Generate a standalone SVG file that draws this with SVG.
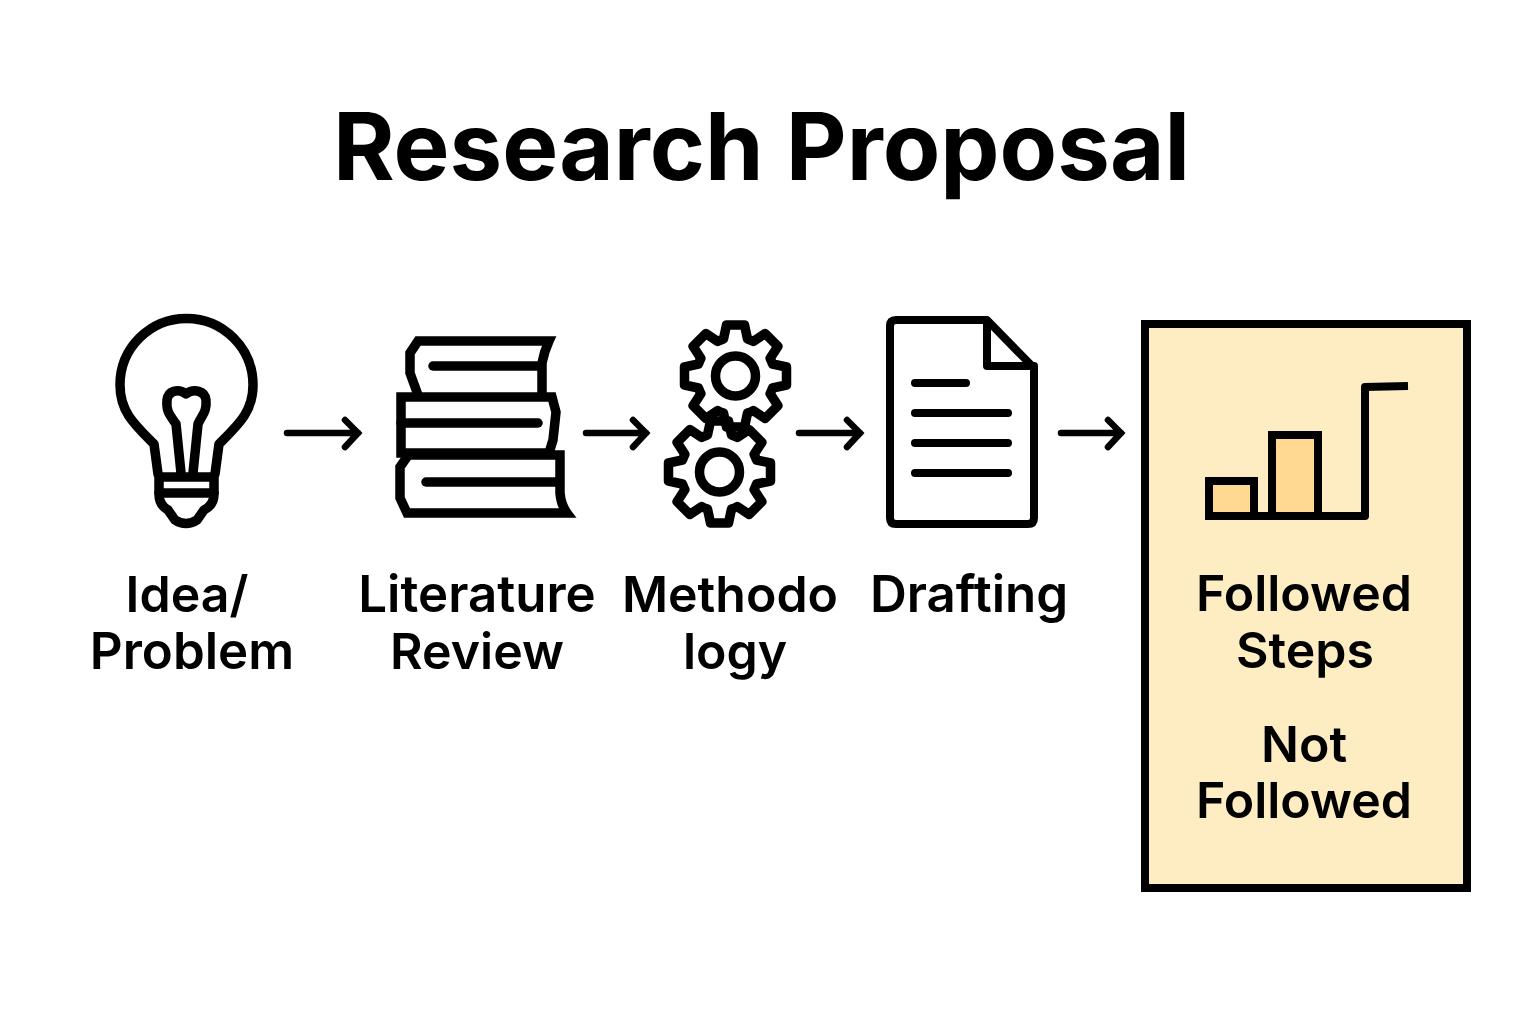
<svg xmlns="http://www.w3.org/2000/svg" width="1536" height="1024" viewBox="0 0 1536 1024">
<style>
text{font-family:"Inter","Liberation Sans",sans-serif;fill:#000;text-anchor:middle}
.t{font-size:94px;font-weight:700}
.l{font-size:50px;font-weight:600}
.w{font-size:51px}
.i{fill:none;stroke:#000;stroke-width:8;stroke-linejoin:round;stroke-linecap:round}
.b{stroke-width:9.5}
.k{stroke-width:9.5;stroke-linejoin:miter;stroke-linecap:butt}
.a{fill:none;stroke:#000;stroke-width:6.5;stroke-linecap:round;stroke-linejoin:miter}
</style>
<defs>
<g id="gear"><path class="i b" d="M-9-51H9L12-37A39 39 0 0 1 17.7-34.6L29.7-42.4 42.4-29.7 34.6-17.7A39 39 0 0 1 37-12L51-9V9L37 12A39 39 0 0 1 34.6 17.7L42.4 29.7 29.7 42.4 17.7 34.6A39 39 0 0 1 12 37L9 51H-9L-12 37A39 39 0 0 1-17.7 34.6L-29.7 42.4-42.4 29.7-34.6 17.7A39 39 0 0 1-37 12L-51 9V-9L-37-12A39 39 0 0 1-34.6-17.7L-42.4-29.7-29.7-42.4-17.7-34.6A39 39 0 0 1-12-37Z"/><circle class="i b" r="20"/></g>
</defs>
<rect width="1536" height="1024" fill="#fff"/>
<text id="title" class="t" x="761.5" y="180">Research Proposal</text>
<g id="connectors">
<path class="a" d="M287 433H358M345 420L358 433 345 447"/>
<path class="a" d="M586 433H646M633 420L646 433 633 447"/>
<path class="a" d="M799 433H860M847 420L860 433 847 447"/>
<path class="a" d="M1061 433H1121M1108 420L1121 433 1108 447"/>
</g>
<g id="node-idea">
<path class="i b" d="M158 474L154 444C135 425 120 412 120 385A66.5 66.5 0 1 1 253 385C253 412 238 425 219 444L215 474"/>
<path class="i b" d="M181 473L176 424C170 415 166 412 167 400C168 391 178 388 186 394C194 388 205 391 206 400C207 412 202 415 198 424L193 473"/>
<path class="i b" d="M159 477H214V494Q214 505 204 510L197 520Q186 527 175 520L168 510Q159 505 159 494Z"/>
<path class="i b" d="M159 493H214"/>
<text class="l w" x="192" y="669">Problem</text>
<text class="l" x="187" y="612">Idea/</text>
</g>
<g id="node-literature">
<path class="i k" d="M418 395L410 373V353L418 341H549Q544 352 542 363V395"/>
<path class="i b" d="M433 366H540"/>
<path class="i k" d="M401 397H552L556 412 553 440 549 453H401Z"/>
<path class="i b" d="M401 423H538"/>
<path class="i k" d="M401 455H560V493Q561 505 567 513H407L400 498V467L407 457"/>
<path class="i b" d="M426 482H557"/>
<text class="l w" x="477" y="612">Literature</text>
<text class="l" x="477" y="669">Review</text>
</g>
<g id="node-methodology">
<use href="#gear" x="735.5" y="376"/>
<use href="#gear" x="719.5" y="472"/>
<text class="l" x="730" y="612">Methodo</text>
<text class="l" x="735" y="669">logy</text>
</g>
<g id="node-drafting">
<path class="i" d="M896 320H987L1034 368V518Q1034 524 1028 524H896Q890 524 890 518V326Q890 320 896 320Z"/>
<path class="i" d="M987 322V366H1034"/>
<path class="i" d="M915 383H966M915 413H1008M915 443H1008M915 473H1008"/>
<text class="l w" x="969" y="612">Drafting</text>
</g>
<g id="node-outcome">
<rect x="1145" y="324" width="322" height="564" fill="#feedc2" stroke="#000" stroke-width="8"/>
<rect x="1209" y="481" width="45" height="35" fill="#ffd892" stroke="#000" stroke-width="8"/>
<rect x="1272" y="435" width="46" height="81" fill="#ffd892" stroke="#000" stroke-width="8"/>
<path d="M1209 516H1365V387L1408 386" fill="none" stroke="#000" stroke-width="8" stroke-linejoin="round"/>
<text class="l" x="1304" y="611">Followed</text>
<text class="l" x="1305" y="668">Steps</text>
<text class="l" x="1304" y="762">Not</text>
<text class="l" x="1304" y="818">Followed</text>
</g>
</svg>
